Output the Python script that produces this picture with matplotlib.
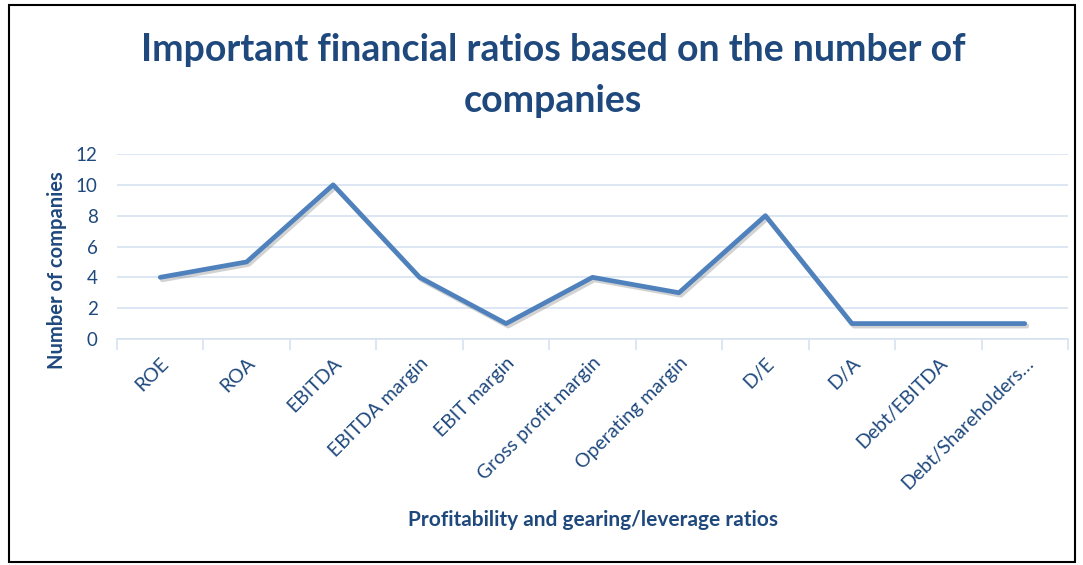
import matplotlib
matplotlib.use("Agg")
import matplotlib.pyplot as plt
from matplotlib.patches import Rectangle
import matplotlib.patheffects as pe

categories = ["ROE", "ROA", "EBITDA", "EBITDA margin", "EBIT margin", "Gross profit margin",
              "Operating margin", "D/E", "D/A", "Debt/EBITDA", "Debt/Shareholders…"]
values = [4, 5, 10, 4, 1, 4, 3, 8, 1, 1, 1]
yticks = [0, 2, 4, 6, 8, 10, 12]

plt.rcParams['font.family'] = ['Lato', 'DejaVu Sans']
text_c = "#1F497D"
line_c = "#4F81BD"
grid_c = "#D6E3F1"

W, H = 1083, 565
fig = plt.figure(figsize=(W/100, H/100), dpi=100)
fig.patches.append(Rectangle((9/W, 3/H), (1075-9)/W, (562-5)/H, transform=fig.transFigure,
                             fill=False, edgecolor="black", linewidth=1.5))

ax_l, ax_r = 117, 1068
ax_t, ax_b = 154, 339
ax = fig.add_axes([ax_l/W, 1-ax_b/H, (ax_r-ax_l)/W, (ax_b-ax_t)/H])
x = list(range(len(categories)))
ax.plot(x, values, color=line_c, linewidth=3.4, solid_capstyle="round", solid_joinstyle="round",
        path_effects=[pe.SimpleLineShadow(offset=(1.5, -1.8), shadow_color="gray", alpha=0.35), pe.Normal()],
        zorder=3)
ax.set_xlim(-0.5, len(categories)-0.5)
ax.set_ylim(0, 12)
ax.set_yticks(yticks)
ax.yaxis.grid(True, color=grid_c, linewidth=1.2)
ax.set_axisbelow(True)
for s in ["top", "right", "left"]:
    ax.spines[s].set_visible(False)
ax.spines["bottom"].set_color(grid_c)
ax.spines["bottom"].set_linewidth(1.2)
ax.tick_params(axis="y", length=0, labelsize=13.5, labelcolor=text_c, pad=14)
ax.set_xticks(x)
ax.set_xticklabels(categories, rotation=45, ha="right", va="top", rotation_mode="anchor",
                   fontsize=14, color=text_c)
ax.tick_params(axis="x", length=0, pad=11)
ax.set_xticks([i - 0.5 for i in range(len(categories)+1)], minor=True)
ax.tick_params(axis="x", which="minor", length=8, color=grid_c, width=1.2)

fig.text(553/W, 1-50/H, "Important financial ratios based on the number of", ha="center", va="center",
         fontsize=27, fontweight="bold", color=text_c)
fig.text(553/W, 1-101/H, "companies", ha="center", va="center",
         fontsize=27, fontweight="bold", color=text_c)
fig.text(57/W, 1-270/H, "Number of companies", rotation=90, ha="center", va="center",
         fontsize=14.5, fontweight="bold", color=text_c)
fig.text(593/W, 1-520/H, "Profitability and gearing/leverage ratios", ha="center", va="center",
         fontsize=15, fontweight="bold", color=text_c)

fig.savefig("out.png", dpi=100)
